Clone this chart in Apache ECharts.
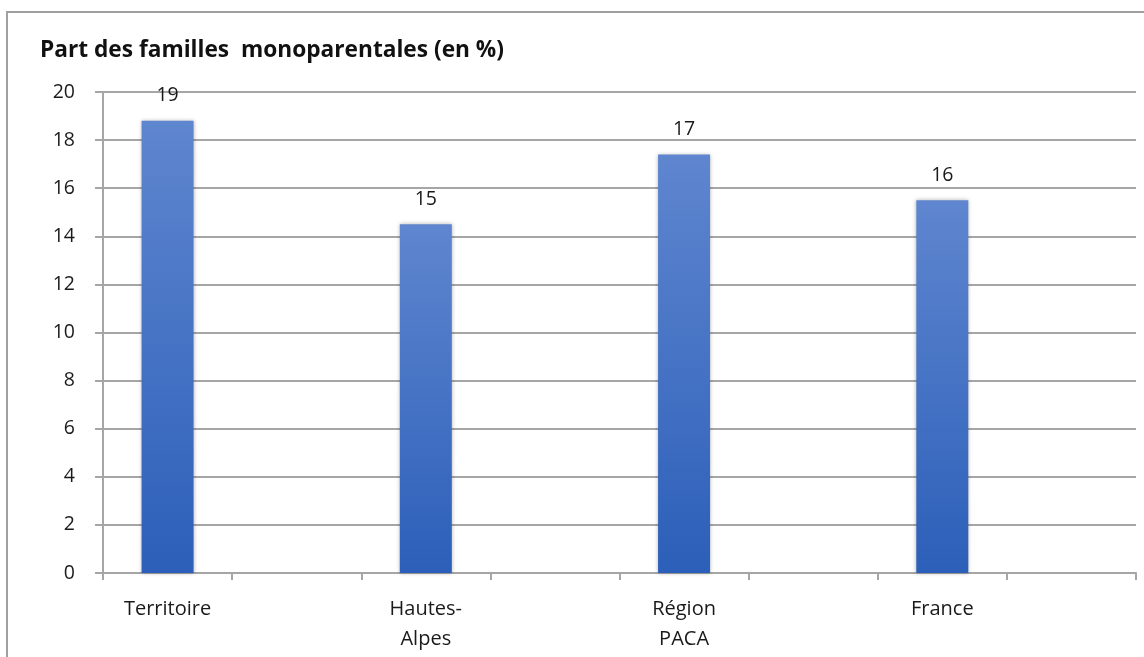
<!DOCTYPE html>
<html>
<head>
<meta charset="utf-8">
<title>Part des familles monoparentales</title>
<script src="https://cdn.jsdelivr.net/npm/echarts@6/dist/echarts.min.js"></script>
<style>
	html, body {margin: 0; padding: 0; background: #fff;}
	#chart {width: 1144px; height: 657px;}
</style>
</head>
<body>
<div id="chart"></div>
<script>
// données
const categories = ['Territoire', 'Hautes-\nAlpes', 'Région\nPACA', 'France'];
const values = [18.8, 14.5, 17.4, 15.5];
const yTicks = [0, 2, 4, 6, 8, 10, 12, 14, 16, 18, 20];

// chaque catégorie occupe deux cases (la seconde reste vide), comme dans l'original
const slots = [];
const slotValues = [];
categories.forEach((c, i) => {
	slots.push(c, '');
	slotValues.push(values[i], null);
});

const chartDom = document.getElementById('chart');
const myChart = echarts.init(chartDom);

const textColor = '#1a1a1a';
const lineColor = '#a6a6a6';
const font = 'Open Sans';

let option = {
	animation: false,
	backgroundColor: '#fff',
	title: {
		text: 'Part des familles  monoparentales (en %)',
		left: 35, top: 34,
		textStyle: {fontFamily: font, fontWeight: 'bold', fontSize: 22.7, color: '#111'}
	},
	graphic: [{
		type: 'rect',
		shape: {x: 7, y: 12, width: 1200, height: 700},
		style: {fill: null, stroke: '#a0a0a0', lineWidth: 2},
		silent: true
	}],
	grid: {left: 103, right: 8, top: 92, bottom: 84},
	xAxis: {
		type: 'category',
		data: slots,
		boundaryGap: true,
		axisLine: {lineStyle: {color: lineColor, width: 2}},
		axisTick: {show: true, length: 7, lineStyle: {color: lineColor, width: 2}},
		axisLabel: {
			interval: 0, margin: 21, lineHeight: 30,
			fontFamily: font, fontSize: 20, color: textColor
		}
	},
	yAxis: {
		type: 'value',
		min: yTicks[0], max: yTicks[yTicks.length - 1], interval: 2,
		axisLine: {show: true, lineStyle: {color: lineColor, width: 2}},
		axisTick: {show: true, length: 8, lineStyle: {color: lineColor, width: 2}},
		axisLabel: {margin: 28, fontFamily: font, fontSize: 19.5, color: textColor},
		splitLine: {lineStyle: {color: lineColor, width: 2}}
	},
	series: [{
		type: 'bar',
		data: slotValues,
		barWidth: 52,
		itemStyle: {
			color: new echarts.graphic.LinearGradient(0, 0, 0, 1, [
				{offset: 0, color: '#5f86cf'},
				{offset: 1, color: '#2c5fb9'}
			]),
			shadowBlur: 4,
			shadowColor: 'rgba(0,0,0,0.3)'
		},
		label: {
			show: true, position: 'top', distance: 15,
			fontFamily: font, fontSize: 19.5, color: textColor,
			formatter: p => Math.round(p.value)
		}
	}]
};

option && myChart.setOption(option);
</script>
</body>
</html>
